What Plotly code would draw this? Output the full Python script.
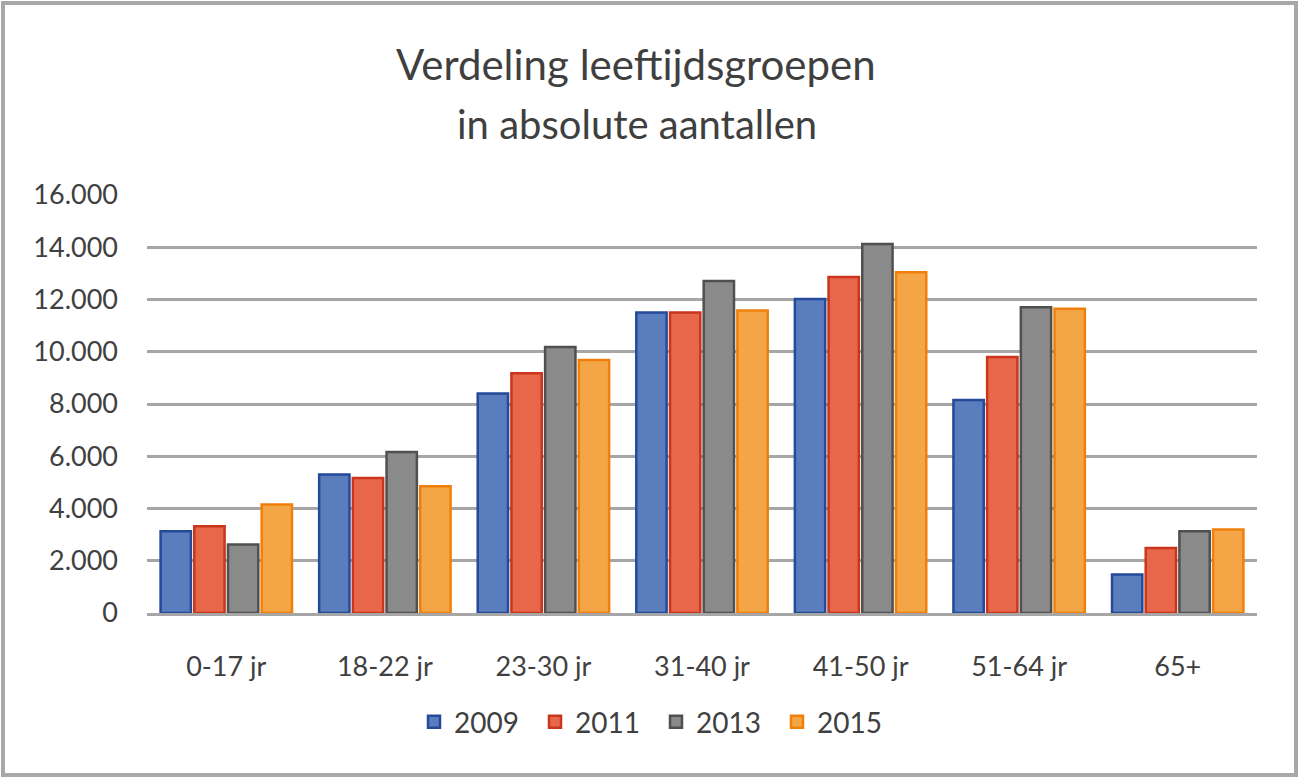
import plotly.graph_objects as go

categories = ["0-17 jr", "18-22 jr", "23-30 jr", "31-40 jr", "41-50 jr", "51-64 jr", "65+"]
years = ["2009", "2011", "2013", "2015"]
v2009 = [3130, 5300, 8400, 11500, 12020, 8150, 1470]
v2011 = [3320, 5170, 9180, 11500, 12860, 9800, 2490]
v2013 = [2620, 6160, 10180, 12710, 14120, 11700, 3130]
v2015 = [4150, 4850, 9680, 11580, 13040, 11650, 3200]
series = [v2009, v2011, v2013, v2015]
y_ticks = [0, 2000, 4000, 6000, 8000, 10000, 12000, 14000, 16000]

fills = ["#5A7DBD", "#E8664A", "#8A8A8A", "#F4A647"]
edges = ["#254A9A", "#C9361C", "#505050", "#F07F0C"]

W, H = 1299, 778
L, R, T, B = 147, 42, 195, 165
FONT = "Lato"

fig = go.Figure()
for name, vals, fc, ec in zip(years, series, fills, edges):
    fig.add_trace(go.Bar(
        x=categories, y=vals, name=name,
        marker=dict(color=fc, line=dict(color=ec, width=2.5)),
    ))

def px_x(p):
    return (p - L) / (W - L - R)

def px_y(p):
    return (H - B - p) / (H - T - B)

fig.add_shape(type="rect", xref="paper", yref="paper",
              x0=px_x(3), x1=px_x(1296), y0=px_y(775), y1=px_y(3),
              line=dict(color="#A8A8A8", width=4), layer="below")

fig.add_annotation(text="Verdeling leeftijdsgroepen", xref="paper", yref="paper",
                   x=px_x(636), y=px_y(64), showarrow=False, xanchor="center", yanchor="middle",
                   font=dict(family=FONT, size=42, color="#3F3F3F"))
fig.add_annotation(text="in absolute aantallen", xref="paper", yref="paper",
                   x=px_x(637), y=px_y(124), showarrow=False, xanchor="center", yanchor="middle",
                   font=dict(family=FONT, size=40, color="#3F3F3F"))

fig.update_layout(
    width=W, height=H,
    margin=dict(l=L, r=R, t=T, b=B, autoexpand=False),
    plot_bgcolor="white", paper_bgcolor="white",
    separators=",.",
    barmode="group", bargap=0.15, bargroupgap=0.1,
    font=dict(family=FONT, size=27, color="#404040"),
    showlegend=True,
    legend=dict(orientation="h", x=px_x(656), xanchor="center", y=px_y(722), yanchor="middle",
                font=dict(family=FONT, size=28, color="#404040"),
                itemwidth=30, tracegroupgap=0, entrywidth=76, entrywidthmode="pixels"),
    xaxis=dict(showgrid=False, showline=True, linecolor="#A6A6A6", linewidth=3,
               ticks="", ticklabelstandoff=28, tickfont=dict(size=27)),
    yaxis=dict(range=[0, 16000], tickvals=y_ticks, tickformat=",d",
               showgrid=True, gridcolor="#A6A6A6", gridwidth=2.5,
               zeroline=False, showline=False, ticks="", ticklabelstandoff=28,
               tickfont=dict(size=27)),
)

fig.write_html("out.html", config={"displayModeBar": False},
               post_script="document.body.style.margin='0px';document.body.style.overflow='hidden';")
